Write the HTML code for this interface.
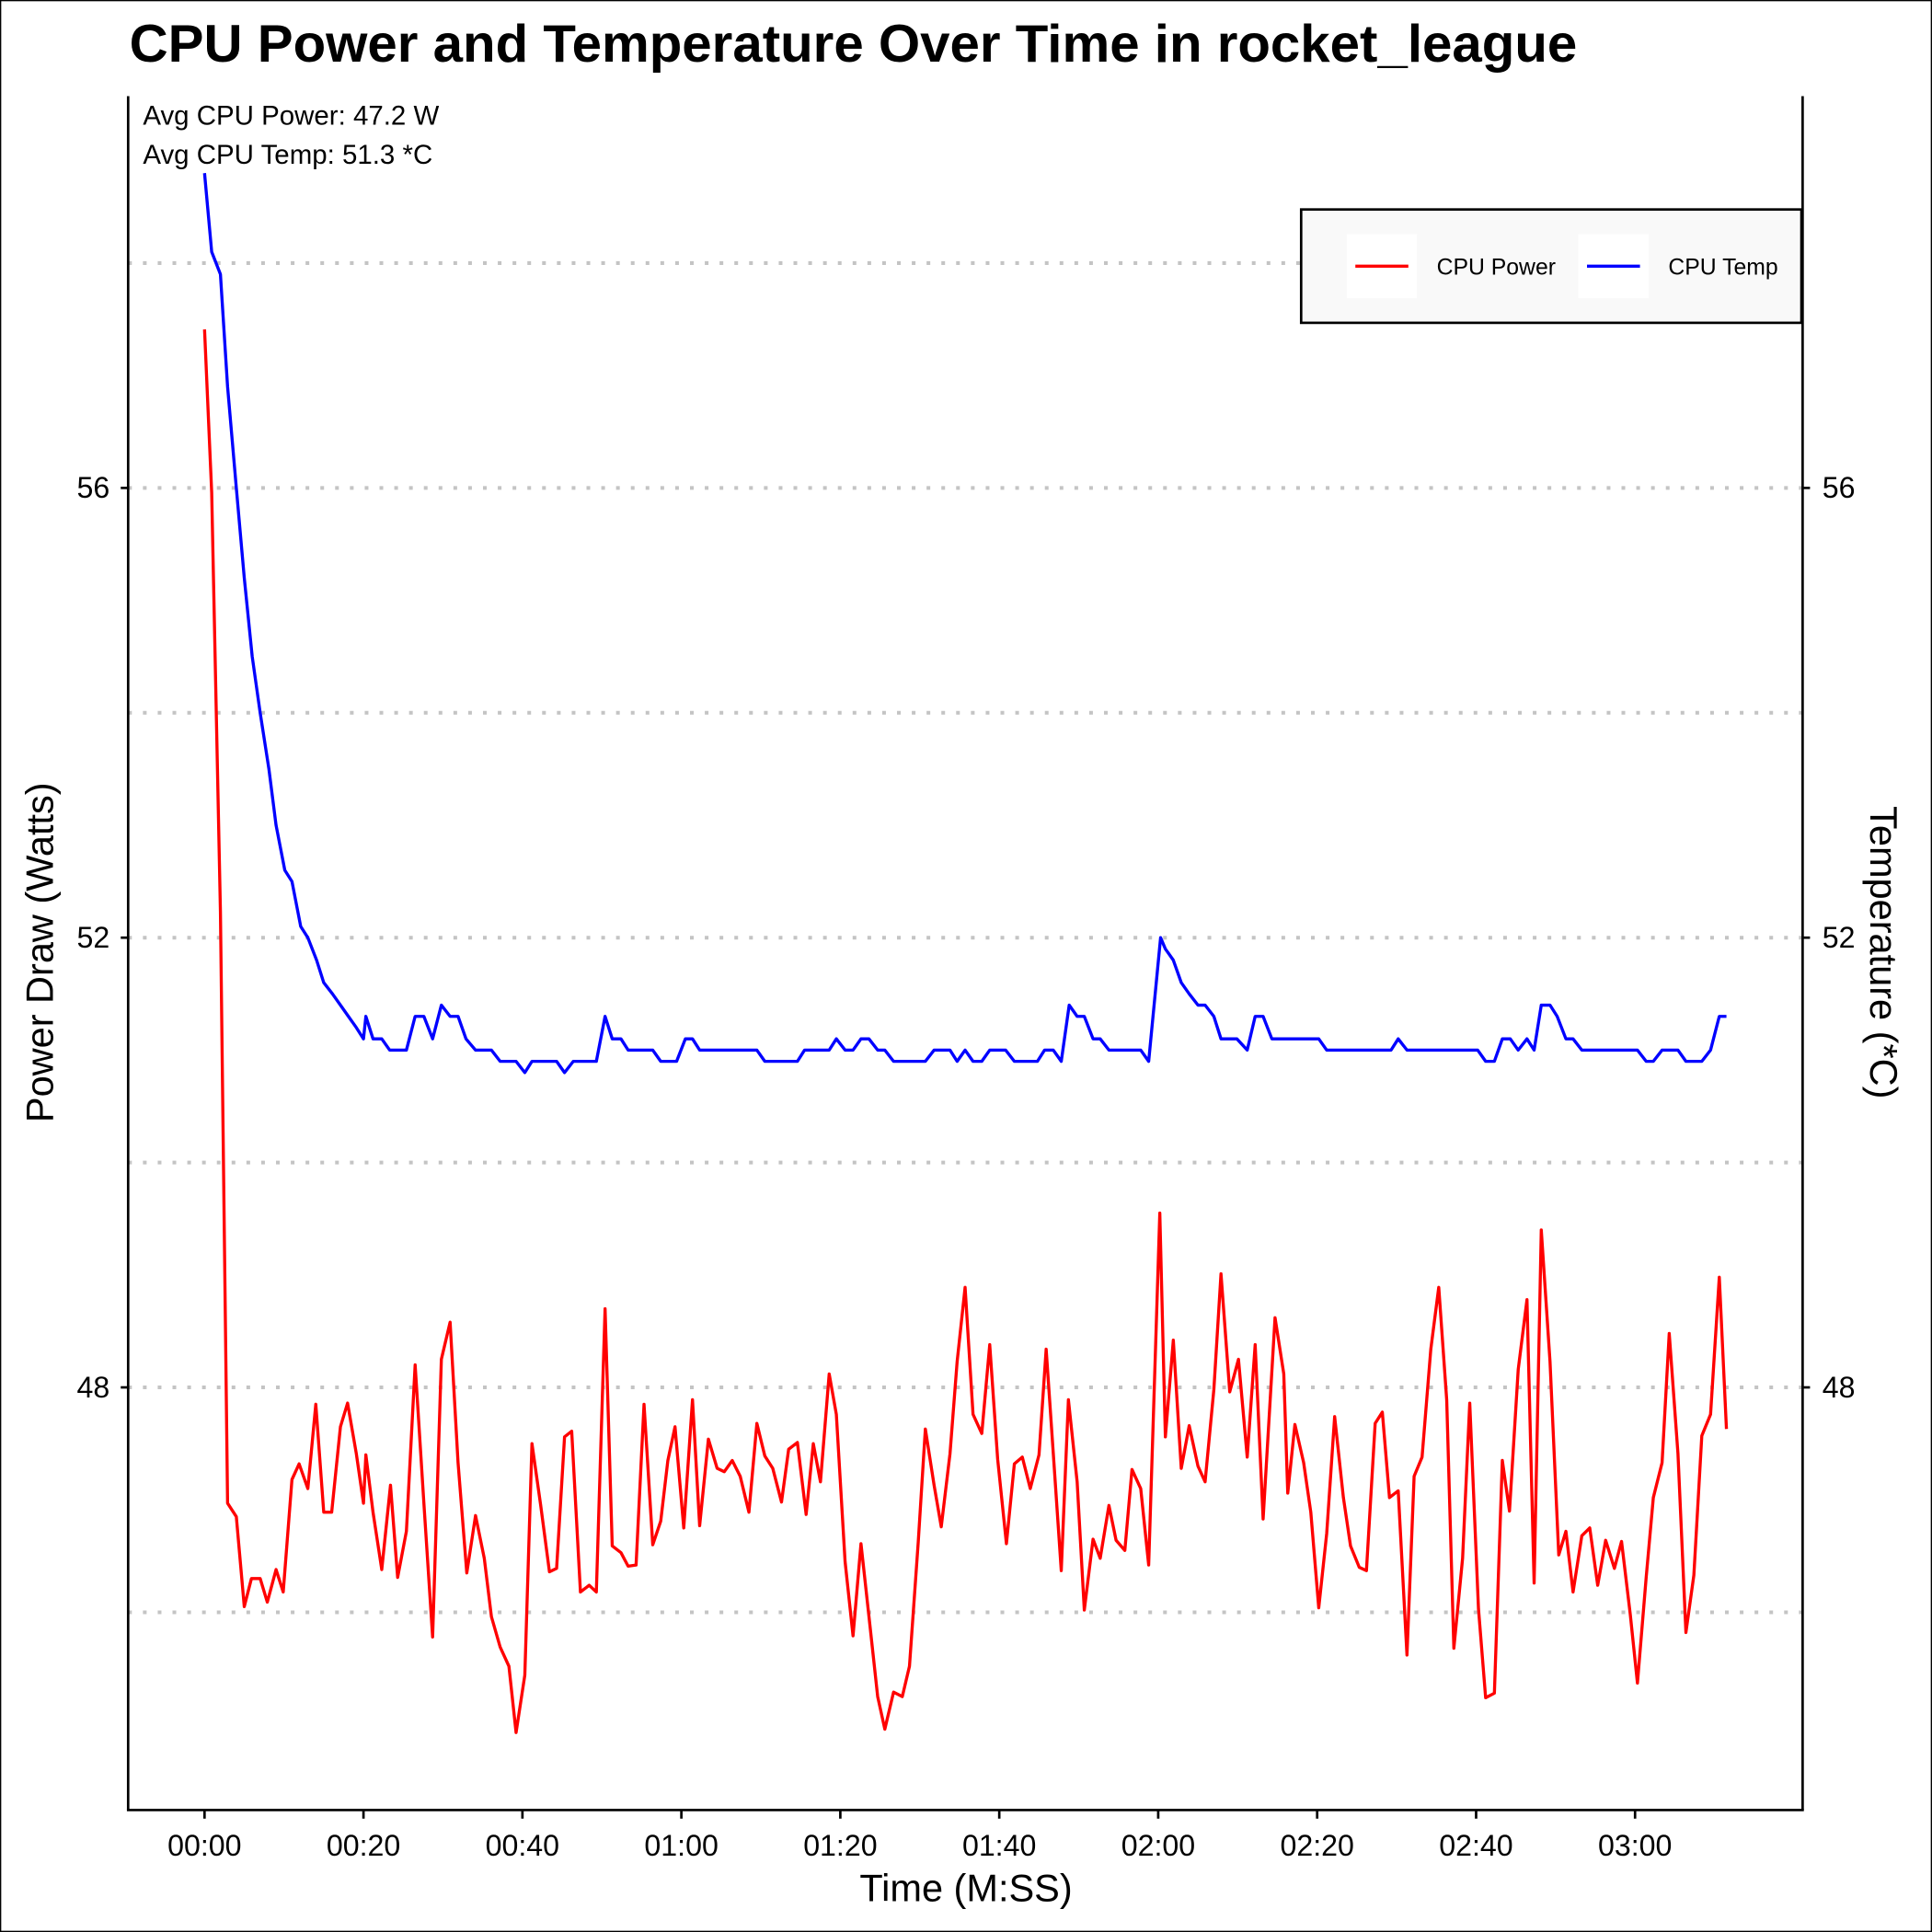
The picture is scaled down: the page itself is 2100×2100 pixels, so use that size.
<!DOCTYPE html>
<html><head><meta charset="utf-8"><style>
html,body{margin:0;padding:0;background:#fff;}
svg{display:block;font-family:"Liberation Sans",Arial,sans-serif;}
</style></head><body>
<svg id="chart" width="2100" height="2100" viewBox="0 0 1568 1568" xmlns="http://www.w3.org/2000/svg">
<rect x="0.5" y="0.5" width="1567" height="1567" fill="#fff" stroke="#000" stroke-width="1"/>
<text x="105" y="50" font-size="43" font-weight="bold" textLength="1175" lengthAdjust="spacingAndGlyphs">CPU Power and Temperature Over Time in rocket_league</text>
<text x="116" y="101" font-size="22">Avg CPU Power: 47.2 W</text>
<text x="116" y="133" font-size="22">Avg CPU Temp: 51.3 *C</text>
<g id="grid"></g>
<g id="series"></g>
<line x1="104" y1="78" x2="104" y2="1469" stroke="#000" stroke-width="2"/>
<line x1="1463" y1="78" x2="1463" y2="1469" stroke="#000" stroke-width="2"/>
<line x1="103" y1="1469" x2="1464" y2="1469" stroke="#000" stroke-width="2"/>
<g id="ticks"></g>
<text x="784" y="1543" font-size="31" text-anchor="middle">Time (M:SS)</text>
<text transform="translate(43,773) rotate(-90)" font-size="31" text-anchor="middle">Power Draw (Watts)</text>
<text transform="translate(1518,773) rotate(90)" font-size="31" text-anchor="middle">Temperature (*C)</text>
<g>
<rect x="1056" y="170" width="406" height="92" fill="#f9f9f9" stroke="#000" stroke-width="2"/>
<rect x="1093" y="190" width="57" height="52" fill="#fff"/>
<line x1="1100" y1="216" x2="1143" y2="216" stroke="#ff0000" stroke-width="2.5"/>
<text x="1166" y="223" font-size="18.5">CPU Power</text>
<rect x="1281" y="190" width="57" height="52" fill="#fff"/>
<line x1="1288" y1="216" x2="1331" y2="216" stroke="#0000ff" stroke-width="2.5"/>
<text x="1354" y="223" font-size="18.5">CPU Temp</text>
</g>
</svg>
<script>
const powerTimes=[0,0.9,2.0,2.9,4.0,5.0,5.9,7.0,7.9,9.0,9.9,11.0,11.9,13.0,14.0,15.0,16.0,17.1,18.0,19.1,20.0,20.3,21.2,22.3,23.4,24.3,25.4,26.5,27.6,28.7,29.8,30.9,31.9,33.0,34.1,35.2,36.1,37.2,38.3,39.2,40.3,41.2,42.3,43.4,44.3,45.3,46.2,47.3,48.4,49.3,50.4,51.3,52.4,53.3,54.3,55.3,56.4,57.4,58.3,59.2,60.3,61.4,62.3,63.4,64.5,65.4,66.4,67.4,68.5,69.5,70.5,71.5,72.6,73.5,74.6,75.7,76.6,77.5,78.6,79.5,80.6,81.6,82.6,83.7,84.7,85.6,86.7,87.8,88.7,89.8,90.7,91.8,92.7,93.8,94.7,95.7,96.7,97.8,98.8,99.8,100.9,101.9,102.9,103.9,105.0,105.9,106.8,107.8,108.7,109.8,110.7,111.8,112.7,113.8,114.7,115.8,116.7,117.8,118.8,120.2,120.9,121.9,122.9,123.9,125.0,125.9,127.0,127.9,129.0,130.1,131.2,132.2,133.2,134.7,135.8,136.3,137.2,138.3,139.2,140.2,141.2,142.2,143.3,144.2,145.3,146.2,147.3,148.2,149.1,150.2,151.3,152.2,153.2,154.3,155.3,156.3,157.2,158.3,159.2,160.3,161.2,162.3,163.3,164.2,165.3,166.4,167.3,168.2,169.3,170.4,171.3,172.2,173.3,174.3,175.3,176.3,177.4,178.3,179.4,180.3,181.4,182.3,183.4,184.3,185.4,186.4,187.4,188.4,189.5,190.6,191.5];
const powerValues=[57.41,55.96,52.23,46.97,46.85,46.05,46.30,46.30,46.09,46.38,46.18,47.18,47.32,47.10,47.85,46.89,46.89,47.65,47.86,47.41,46.97,47.40,46.89,46.38,47.13,46.31,46.72,48.20,46.97,45.78,48.25,48.58,47.33,46.35,46.86,46.48,45.96,45.69,45.52,44.93,45.44,47.50,46.95,46.36,46.39,47.56,47.61,46.18,46.24,46.18,48.70,46.59,46.53,46.41,46.42,47.85,46.60,46.81,47.35,47.65,46.75,47.89,46.77,47.54,47.28,47.25,47.35,47.21,46.89,47.68,47.39,47.28,46.98,47.45,47.51,46.87,47.50,47.16,48.12,47.76,46.45,45.79,46.61,45.90,45.25,44.96,45.29,45.25,45.52,46.62,47.63,47.13,46.76,47.41,48.23,48.89,47.76,47.59,48.38,47.36,46.61,47.32,47.38,47.10,47.40,48.34,47.41,46.37,47.89,47.16,46.02,46.65,46.48,46.95,46.64,46.55,47.27,47.10,46.42,49.55,47.56,48.42,47.28,47.66,47.30,47.16,47.98,49.01,47.96,48.25,47.38,48.38,46.83,48.62,48.12,47.06,47.67,47.33,46.89,46.04,46.70,47.74,47.02,46.59,46.40,46.37,47.68,47.78,47.02,47.08,45.62,47.21,47.38,48.34,48.89,47.89,45.68,46.48,47.86,46.03,45.24,45.28,47.35,46.90,48.16,48.78,46.26,49.40,48.23,46.51,46.72,46.18,46.68,46.75,46.24,46.64,46.39,46.63,45.98,45.37,46.31,47.02,47.33,48.48,47.41,45.82,46.33,47.57,47.76,48.98,47.63];
const tempTimes=[0,0.9,2.0,2.9,4.0,5.0,6.0,7.0,8.1,9.0,10.1,11.0,12.1,13.0,14.1,15.0,16.1,17.1,18.1,19.1,20.0,20.3,21.2,22.3,23.3,25.4,26.5,27.6,28.7,29.8,30.9,31.9,32.9,34.1,36.1,37.2,39.2,40.3,41.2,44.3,45.3,46.4,49.3,50.4,51.3,52.4,53.3,56.4,57.4,59.4,60.5,61.4,62.3,69.5,70.5,74.6,75.5,78.6,79.5,80.6,81.6,82.6,83.6,84.7,85.6,86.7,90.7,91.8,93.8,94.7,95.7,96.7,97.8,98.8,100.8,101.9,104.8,105.7,106.8,107.8,108.8,109.8,110.7,111.8,112.7,113.8,117.8,118.8,120.3,120.9,121.9,122.9,123.9,125.0,125.9,127.0,127.9,129.9,131.2,132.2,133.2,134.3,140.2,141.2,149.3,150.2,151.3,160.2,161.2,162.3,163.3,164.3,165.3,166.4,167.3,168.2,169.3,170.2,171.3,172.2,173.3,180.3,181.4,182.3,183.4,185.4,186.4,188.4,189.5,190.6,191.5];
const tempValues=[58.8,58.1,57.9,56.9,56.0,55.2,54.5,54.0,53.5,53.0,52.6,52.5,52.1,52.0,51.8,51.6,51.5,51.4,51.3,51.2,51.1,51.3,51.1,51.1,51.0,51.0,51.3,51.3,51.1,51.4,51.3,51.3,51.1,51.0,51.0,50.9,50.9,50.8,50.9,50.9,50.8,50.9,50.9,51.3,51.1,51.1,51.0,51.0,50.9,50.9,51.1,51.1,51.0,51.0,50.9,50.9,51.0,51.0,51.1,51.0,51.0,51.1,51.1,51.0,51.0,50.9,50.9,51.0,51.0,50.9,51.0,50.9,50.9,51.0,51.0,50.9,50.9,51.0,51.0,50.9,51.4,51.3,51.3,51.1,51.1,51.0,51.0,50.9,52.0,51.9,51.8,51.6,51.5,51.4,51.4,51.3,51.1,51.1,51.0,51.3,51.3,51.1,51.1,51.0,51.0,51.1,51.0,51.0,50.9,50.9,51.1,51.1,51.0,51.1,51.0,51.4,51.4,51.3,51.1,51.1,51.0,51.0,50.9,50.9,51.0,51.0,50.9,50.9,51.0,51.3,51.3];
const gridValues=[46,48,50,52,54,56,58];
const yTickValues=[48,52,56];
const xTickSeconds=[0,20,40,60,80,100,120,140,160,180];
const xTickLabels=["00:00","00:20","00:40","01:00","01:20","01:40","02:00","02:20","02:40","03:00"];

const NS="http://www.w3.org/2000/svg";
function xScale(t){return 166+t*6.45;}
function yScale(v){return 1126-(v-48)*91.25;}
function mk(tag,attrs,parent){const e=document.createElementNS(NS,tag);for(const k in attrs)e.setAttribute(k,attrs[k]);parent.appendChild(e);return e;}
const grid=document.getElementById('grid');
gridValues.forEach(v=>{
  const l=mk('line',{x1:104,x2:1463,y1:yScale(v),y2:yScale(v),stroke:'#c4c4c4','stroke-width':3,'stroke-dasharray':'3 9'},grid);
  
  
});
const series=document.getElementById('series');
const pp=mk('polyline',{points:powerTimes.map((t,i)=>xScale(t)+','+yScale(powerValues[i])).join(' '),fill:'none',stroke:'#ff0000','stroke-width':2.5,'stroke-linejoin':'round'},series);


const tp=mk('polyline',{points:tempTimes.map((t,i)=>xScale(t)+','+yScale(tempValues[i])).join(' '),fill:'none',stroke:'#0000ff','stroke-width':2.5,'stroke-linejoin':'round'},series);


const ticks=document.getElementById('ticks');
yTickValues.forEach(v=>{
  const y=yScale(v);
  mk('line',{x1:98,x2:104,y1:y,y2:y,stroke:'#000','stroke-width':2},ticks);
  mk('line',{x1:1463,x2:1469,y1:y,y2:y,stroke:'#000','stroke-width':2},ticks);
  const a=mk('text',{x:89,y:y+8,'font-size':24,'text-anchor':'end'},ticks);a.textContent=v;
  
  
  const b=mk('text',{x:1479,y:y+8,'font-size':24},ticks);b.textContent=v;
  
  
});
xTickSeconds.forEach((s,i)=>{
  const x=xScale(s);
  mk('line',{x1:x,x2:x,y1:1469,y2:1476,stroke:'#000','stroke-width':2},ticks);
  const t=mk('text',{x:x,y:1506,'font-size':24,'text-anchor':'middle'},ticks);t.textContent=xTickLabels[i];
  
  
});
</script>
</body></html>
